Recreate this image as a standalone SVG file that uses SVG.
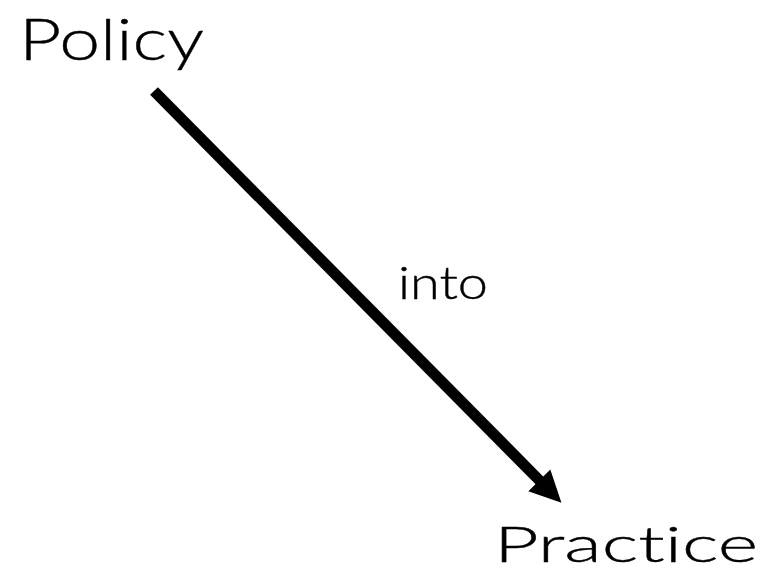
<svg xmlns="http://www.w3.org/2000/svg" width="765" height="578" viewBox="0 0 765 578">
<style>
text{font-family:Lato,"Liberation Sans",Arial,sans-serif;font-weight:300;font-variant-ligatures:none;fill:#000;stroke:#000;stroke-width:0.4}
</style>
<defs>
<marker id="ah" markerUnits="userSpaceOnUse" viewBox="0 0 32 32" refX="1" refY="16" markerWidth="32" markerHeight="32" orient="auto">
<path d="M0,0.5 L31.5,16 L0,31.5 z" fill="#000"/>
</marker>
</defs>
<rect width="765" height="578" fill="#fff"/>
<g id="connectors">
<line x1="154" y1="91" x2="540" y2="481" stroke="#000" stroke-width="11" marker-end="url(#ah)"/>
<text x="398" y="299" font-size="46" textLength="90" lengthAdjust="spacingAndGlyphs">into</text>
</g>
<g id="node-policy"><text x="19" y="60" font-size="58" textLength="185" lengthAdjust="spacingAndGlyphs">Policy</text></g>
<g id="node-practice"><text x="494" y="562" font-size="49" textLength="264" lengthAdjust="spacingAndGlyphs">Practice</text></g>
</svg>
